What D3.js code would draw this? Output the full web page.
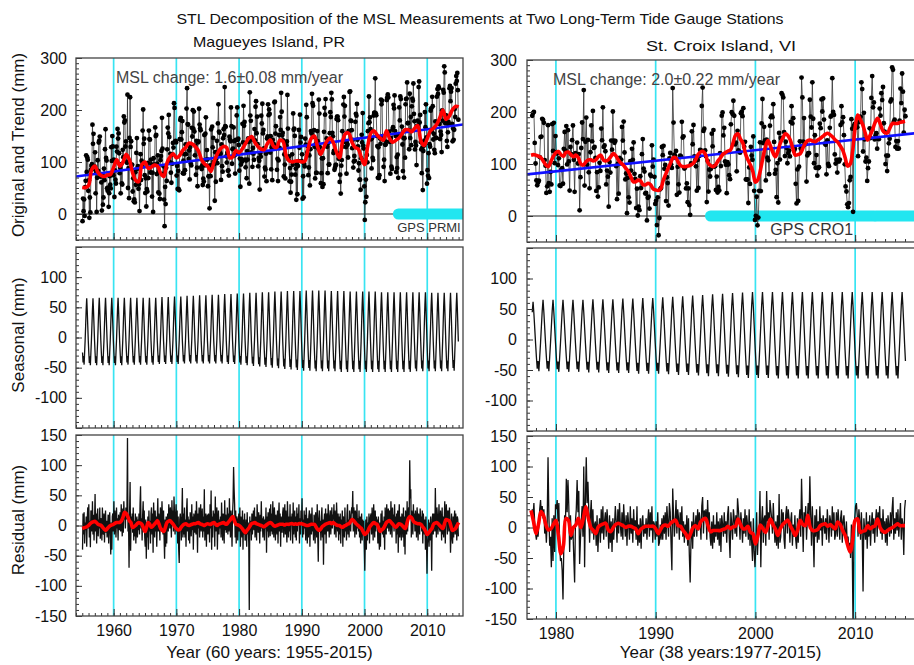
<!DOCTYPE html>
<html>

<head>
  <meta charset="utf8">
  <script src="https://d3js.org/d3.v7.min.js"></script>
  <style>
    body { margin: 0; background: #fff; }
    text { font-family: "Liberation Sans", Arial, sans-serif; fill: #111; }
    .narrow { font-family: "Liberation Sans Narrow", "Arial Narrow", sans-serif; }
  </style>
</head>

<body>
  <svg id="chart" width="914" height="665"></svg>
  <script>
    // ---- Magueyes Island, PR : monthly residuals Jan 1955 .. Dec 2014 (mm)
    var magResidual = [
      -40, 20, -15, 22, -30, 5, -8, 15, -35, 10, 30, -5,
      35, -20, 8, -36, 25, 12, -10, 40, -15, 18, -25, 5,
      52, -10, 20, -30, 15, 28, -18, 10, -5, 30, -22, 8,
      12, -25, 30, -8, -15, 20, -28, 5, 25, -12, 8, -20,
      -5, 18, -30, 10, 22, -15, -48, 5, -40, 15, 20, -10,
      40, -15, 25, 8, -20, 30, -5, 12, -25, 18, 5, -8,
      22, -10, 35, 5, -18, 28, -12, 40, 10, 20, -5, 30,
      10, 25, 145, -10, 8, -70, 20, 72, -42, 15, -5, 20,
      -12, 30, -25, 8, -18, 20, -30, 5, 15, -20, 10, -8,
      20, -15, 35, 65, -5, 12, -25, 18, 40, -10, 25, -20,
      -35, 10, -55, 5, -20, 15, -40, 25, -10, 8, -30, 20,
      30, -15, 20, -45, 38, 5, -20, 25, -10, 15, -35, 10,
      45, -10, 20, 5, -25, 30, 12, -5, 40, 8, -15, 25,
      -20, -55, 10, -35, 15, -30, 5, 20, -10, 35, 18, -5,
      30, 10, -20, 42, 5, 25, -10, 48, 20, -15, 12, 35,
      -10, 25, -30, 15, -40, -62, 10, 20, 5, -25, 15, 62,
      -20, 20, -15, 30, -20, 10, -35, 25, 45, -10, 15, -25,
      10, -30, 22, 5, -18, 35, -8, 15, -40, 20, 8, -12,
      25, -15, 40, 10, -45, 20, -5, 30, -20, 12, 35, -10,
      5, 28, -20, 15, -10, 60, -25, 8, 20, -35, 10, 18,
      -15, 20, 10, -28, 35, -5, 58, -40, 15, -20, 25, 5,
      20, -35, 48, -10, 15, 30, -40, 8, 25, -15, 10, -5,
      15, -20, 38, 5, -25, 20, 10, -30, 42, -8, 18, -12,
      -5, 30, -15, 20, -10, 45, 12, -20, 25, 10, -35, 20,
      40, 97, 60, 35, -20, 25, -30, 15, 10, -25, 5, 20,
      -10, 30, -35, 15, 5, -20, 25, -40, 10, -15, 20, -25,
      -20, 10, -35, 22, -15, 5, -30, -140, 15, -10, 8, -25,
      20, -15, 10, 25, -8, 30, -20, 15, 5, -25, 35, 10,
      -12, 22, 5, -30, 18, -10, 40, -5, 12, -20, 15, 8,
      -25, 10, -5, 30, -45, 15, -10, 22, -20, 8, 28, -18,
      35, -10, 20, -15, 40, 5, -20, 30, 10, -25, 18, 5,
      -15, 25, -30, 12, 38, -10, 20, -35, 15, 5, -12, 22,
      30, -20, 10, 35, -15, 25, -5, -28, 40, 10, -20, 15,
      -10, 35, -25, 15, 5, 20, -30, 38, -15, 10, 25, -20,
      15, -25, 30, -10, 20, 5, 35, -30, 12, -15, 25, 8,
      45, -20, 10, -15, 25, -5, 18, -25, 30, 8, -30, 12,
      -20, 15, 25, -35, 10, 20, -15, 30, -10, 5, -25, 18,
      10, -30, 22, 5, -20, 35, -15, -60, 12, 25, -10, 8,
      -25, 15, 30, -20, 10, -65, 5, 20, -15, 28, -30, 12,
      20, -10, 35, 5, -20, 15, 25, -15, 10, 30, -5, 18,
      10, 35, -15, 25, 5, -20, 38, 12, -10, 20, -25, 15,
      -15, 20, -30, 10, -5, 25, -35, 15, 8, -20, 30, -10,
      5, -25, 20, 35, -15, 10, -20, 25, 5, -10, 18, 30,
      20, 57, -10, 30, 15, -20, 25, 10, -15, 35, -5, 12,
      -10, 25, -20, 15, -30, 5, 20, -25, 10, -15, 8, -35,
      -75, -20, 10, -40, 15, -25, 5, -10, 20, -30, 8, 15,
      20, -15, 30, 5, -25, 35, 10, -20, 25, -10, 15, 5,
      10, -30, 15, -20, -40, 5, -35, 20, -10, 25, -15, 8,
      -20, 15, -40, 30, 5, -15, 35, 10, -5, 28, -10, 20,
      25, -15, 40, 10, -20, 30, 5, 18, -10, 35, -5, 15,
      -30, 20, -15, 25, -45, 10, 35, -20, 5, 15, -25, 20,
      10, -20, 30, -35, 15, -48, 25, 5, -15, 40, -10, 20,
      30, 15, 108, 45, 60, -20, 25, 10, -15, 35, 5, 20,
      -10, 25, 5, -20, 30, 15, -25, 20, 10, -15, 28, 5,
      15, -10, 25, -30, 20, 5, -15, 10, -40, 15, -20, -80,
      -30, -20, 10, -35, 5, -25, 15, -10, -75, 10, 20, -15,
      20, 10, -10, 62, 5, -20, 30, 15, -15, 10, 35, -5,
      -10, 25, 5, -25, 30, -15, 15, -20, 10, 40, -30, 15,
      35, 10, -15, 25, 20, -10, 30, 5, -45, -15, 20, -20,
      -30, 15, -20, 10, 25, -15, 20, 5, -25, 15, 10, -18
    ];

    // red trend, every half year from 1955.0 to 2015.0
    var magTrend = [
      51, 51, 55, 85, 92, 80, 74, 72, 75, 76,
      90, 104, 92, 100, 115, 105, 80, 65, 62, 95,
      100, 88, 90, 94, 92, 78, 72, 98, 110, 116,
      108, 112, 122, 128, 136, 135, 130, 122, 105, 96,
      92, 82, 100, 115, 125, 130, 128, 108, 110, 122,
      118, 125, 135, 145, 149, 138, 130, 125, 124, 135,
      142, 130, 128, 142, 140, 112, 102, 100, 102, 102,
      100, 102, 125, 145, 150, 130, 115, 128, 140, 146,
      138, 120, 108, 140, 155, 155, 138, 128, 125, 108,
      95, 130, 155, 160, 152, 146, 142, 160, 145, 138,
      142, 146, 155, 162, 162, 158, 165, 170, 140, 132,
      145, 160, 165, 172, 185, 200, 182, 188, 200, 207,
      206
    ];

    // smoothed residual (red), every quarter from 1955.0 to 2015.0
    var magResidSmooth = [
      -5, -4, -3, -2, 0, 3, 5, 6, 7, 5, 2, 1, 0, -3, -6, -8, -5, -2, 0, 1,
      2, 4, 5, 5, 5, 8, 14, 22, 20, 15, 8, 5, -3, -2, 0, 3, 5, 4, 2, -4,
      -10, -3, 5, 2, -3, -1, 2, 5, 8, 2, -5, -8, -10, -3, 5, 7, 8, 5, 2, -2,
      -5, -7, -7, -3, 0, 2, 3, 1, 0, 1, 2, 3, 3, 4, 5, 3, 2, 1, 0, 2,
      3, 2, 2, 4, 5, 2, 0, 2, 3, 4, 5, 3, 2, 5, 8, 12, 15, 8, 2, 1,
      0, -2, -5, -9, -12, -8, -5, -1, 3, 4, 5, 3, 2, 1, 0, -1, -2, 0, 2, 4,
      5, 3, 0, -1, 0, 1, 2, 2, 2, 1, 2, 2, 2, 3, 3, 2, 3, 2, 3, 3,
      3, 2, 1, 0, 0, 1, 2, 2, 2, -2, -6, -8, -6, -2, 0, 2, 3, 4, 5, 3,
      5, 3, 1, 0, 0, -2, -3, -1, 0, 2, 3, 6, 10, 8, 5, 2, 0, -3, -5, -10,
      -15, -13, -10, -4, 0, 3, 5, 3, 2, -4, -10, -7, -5, 0, 5, 7, 8, 5, 2, -1,
      -3, 0, 3, 2, 0, -3, -5, 3, 12, 15, 13, 8, 5, 4, 3, 3, 2, -2, -5, -10,
      -15, -12, -8, -5, 2, 4, 5, 3, 0, -3, -5, 3, 10, 9, 8, 0, -8, -7, -5, 0,
      5
    ];

    // seasonal amplitude per year 1955..2014 (peak and trough, mm)
    var magSeasMax = [
      65, 65, 66, 66, 66, 66, 66, 66, 66, 66, 66, 66, 67, 67, 68,
      68, 69, 69, 70, 70, 71, 71, 72, 72, 73, 73, 74, 74, 75, 75,
      76, 76, 77, 77, 77, 78, 78, 78, 78, 77, 77, 77, 76, 76, 76,
      76, 76, 75, 75, 75, 75, 75, 75, 75, 75, 74, 74, 74, 74, 74
    ];
    var magSeasMin = [
      -45, -46, -46, -46, -46, -46, -46, -45, -45, -45, -45, -45, -44, -44, -44,
      -44, -43, -43, -43, -43, -43, -43, -43, -44, -44, -45, -46, -47, -48, -49,
      -50, -51, -52, -53, -54, -55, -55, -56, -56, -56, -56, -57, -57, -57, -57,
      -57, -57, -57, -57, -57, -57, -57, -57, -56, -56, -56, -56, -56, -56, -55
    ];

    // ---- St. Croix Island, VI : monthly residuals Aug 1977 .. Jan 2015 (mm)
    var croixResidual = [
      30, 18, 40, 5, -10,
      -20, -8, -15, 5, 30, 45, 20, 35, 15, 30, -10, 5,
      -25, 10, 115, 20, -30, -15, -65, 15, -55, 20, -40, 38,
      30, 45, 10, 40, -30, -55, -50, -70, -118, -30, 20, 10,
      80, 25, 78, 35, -40, 20, -20, -15, -5, -50, -90, 10,
      30, 78, 25, 60, -60, -20, 10, 35, -15, 100, -65, 45,
      115, 40, 75, 30, -25, 20, 45, -10, 30, -20, 5, 10,
      -30, 20, -40, -5, 15, -25, 30, -10, 35, -20, 10, 25,
      -15, 30, 5, -35, 20, -25, 10, -40, 15, -20, 5, 35,
      10, -25, 30, -10, 40, 5, -15, 25, -20, 38, 10, -15,
      20, -30, 25, 5, -20, 35, -10, 15, -25, 30, -5, 12,
      -20, 35, -30, 5, -25, 15, -35, 10, 20, -15, 5, -10,
      15, -20, 10, 30, -15, 25, -5, 35, -25, 10, 5, -20,
      10, -15, 25, -30, -25, 5, -20, 15, -20, 20, -10, 25,
      -20, 35, 10, -15, 40, 25, -25, -70, 64, 20, -15, 10,
      45, -10, 30, 15, -20, 25, -5, 35, -15, 10, -25, 5,
      -10, 20, -30, 15, -45, -90, -20, 10, -35, 25, -15, 5,
      20, -15, 30, -5, 25, 10, -20, 35, 50, -10, 28, 15,
      30, -20, 45, 5, 25, -15, -30, 10, -35, 20, -25, 5,
      -15, 25, -20, 10, -30, 15, -40, 20, 5, -15, 25, -10,
      10, -25, 20, 35, -15, -50, 25, 5, -20, 30, 15, -10,
      20, -15, 48, 30, 10, -20, 25, 5, -25, 15, -10, 30,
      -15, 20, 5, -20, 30, -30, 10, -25, -55, 15, -40, -65,
      -30, 25, -45, -10, -5, 60, -65, 10, 35, -25, 15, 20,
      -30, 60, 10, 25, -20, 45, 30, 15, -10, 40, 5, -25,
      10, -30, 20, -35, 55, -25, -15, 30, 5, 25, -20, -35,
      20, 35, -10, 30, 15, -25, 10, 25, -30, 5, -15, 20,
      -20, -35, 15, -25, 10, 30, -15, 80, 20, -40, 25, 5,
      35, -20, 15, 40, 10, 84, 20, -30, 35, -10, -65, 20,
      -15, 30, -25, 10, -20, 35, -5, 15, -30, 20, 5, -10,
      15, -20, 30, 5, -25, 20, 10, -15, 35, -5, 25, -20,
      -10, 25, -15, 30, 5, -20, 15, 28, -25, 10, 20, -5,
      -20, 10, -30, -15, -40, -25, -50, 5, -35, -170, -20, 15,
      35, 40, 20, -15, 30, 10, -20, 25, -10, -105, 15, -5,
      -20, 25, -35, 10, -15, 20, -30, 5, 25, -10, 15, -25,
      10, 30, -15, 25, 5, 35, -10, 15, -20, 30, -5, 10,
      -25, 15, -30, 20, 5, -15, 25, -10, 30, 50, -20, 15,
      -10, 25, -5, 30, -15, 10, 40, -20, 15, 5, -45, 30,
      45
    ];

    // red trend, every quarter from 1977.5 to 2015.0
    var croixTrend = [
      117, 118,
      117, 115, 112, 105, 98, 95, 105, 115, 122, 124, 118, 115, 122, 123, 118, 114,
      117, 112, 100, 98, 104, 108, 108, 106, 108, 114, 117, 108, 106, 108, 114, 120,
      116, 108, 102, 98, 92, 86, 76, 66, 66, 69, 67, 60, 60, 63, 60, 52,
      50, 49, 52, 68, 80, 92, 102, 112, 112, 104, 97, 95, 95, 96, 98, 101,
      108, 118, 123, 124, 118, 102, 97, 95, 98, 106, 112, 119, 122, 125, 127, 140,
      155, 158, 148, 140, 120, 108, 98, 85, 65, 70, 88, 112, 133, 145, 135, 122,
      114, 125, 140, 150, 158, 155, 146, 130, 117, 118, 120, 130, 140, 145, 146, 144,
      143, 146, 149, 153, 157, 159, 156, 152, 146, 142, 135, 127, 112, 96, 100, 125,
      170, 194, 186, 176, 160, 146, 155, 166, 180, 188, 178, 165, 160, 160, 170, 178,
      178, 178, 180, 181,
      182
    ];

    // smoothed residual (red), every quarter from 1977.5 to 2015.0
    var croixResidSmooth = [
      28, 10,
      -10, 5, 26, 20, 4, -4, -2, 5, 12, -13, -43, -30, 15, 12, -13, 0,
      4, 15, 0, 15, 34, 15, 0, -5, -10, 1, 4, 6, 7, -4, -7, 0,
      5, 7, 5, 3, 0, 2, 2, 0, -2, -10, -3, 0, 2, 2, 2, 2,
      -2, -10, -3, 3, 4, 2, 7, 10, 12, 3, 2, -5, -10, -18, -10, 0,
      3, -2, 9, 13, 15, 3, -7, -5, -5, -5, -5, -3, -2, 2, -2, 1,
      2, 14, 5, -2, -2, 2, -8, -10, -27, -13, 4, -2, -8, 2, 14, 5,
      -2, -13, -2, 5, 9, 12, 3, -5, -13, -3, 12, 5, 3, 20, 0, -5,
      -5, -3, 3, 5, 6, 2, 5, 1, -2, 9, 5, -5, -13, -29, -40, -20,
      12, 14, -8, -6, -5, 3, -2, 1, 3, 14, 0, -6, -8, -5, -2, 0,
      3, 6, 3, 3,
      3
    ];

    // seasonal amplitude per year 1977..2015
    var croixSeasMax = [
      62, 65, 65, 65, 65, 65, 66, 66, 66, 67, 67, 68, 68, 69, 70, 71, 72, 73, 74, 75,
      76, 77, 78, 78, 78, 78, 78, 78, 78, 78, 78, 78, 78, 78, 78, 78, 78, 78, 78
    ];
    var croixSeasMin = [
      -50, -52, -52, -53, -53, -53, -54, -54, -55, -55, -55, -56, -56, -56, -57, -58, -58, -59, -60, -60,
      -61, -62, -63, -63, -63, -64, -64, -64, -64, -64, -64, -64, -64, -64, -64, -64, -64, -64, -64
    ];

    // normalised shape of one seasonal cycle, Jan..Dec
    var seasonShape = [-0.55, -0.92, -0.68, -1.0, -0.55, -0.1, 0.32, 0.72, 1.0, 0.68, 0.3, -0.12];

    // fitted linear trends (year, mm)
    var magFit = [[1954, 72], [2015.7, 172]];
    var croixFit = [[1977.1, 80], [2016, 159]];

    // GPS station coverage (years)
    var magGps = [[2005.4, 2015.6]];
    var croixGps = [[1995.5, 2004.5], [2004.7, 2008.5], [2008.7, 2011.9], [2012.1, 2015.8]];

    var decadesMag = [1960, 1970, 1980, 1990, 2000, 2010];
    var decadesCroix = [1980, 1990, 2000, 2010];

    var cyan = '#38e4f2';
    var chart = d3.select('#chart');

    var stations = [
      {
        x: d3.scaleLinear().domain([1954, 2015.7]).range([76, 463]),
        rows: [[58, 240], [247, 428], [435, 616]],
        start: 1955, resid: magResidual,
        trend: magTrend, trendStart: 1955, trendStep: 0.5,
        smooth: magResidSmooth, smoothStart: 1955, smoothStep: 0.25,
        seasYear0: 1955, seasMax: magSeasMax, seasMin: magSeasMin,
        fit: magFit, gps: magGps, decades: decadesMag, years: d3.range(1954, 2016),
        rate: 'MSL change: 1.6\u00b10.08 mm/year', rateX: 116,
        gpsLabel: 'GPS PRMI', gpsLabelYear: 2005.2, gpsLabelSize: 13, gpsLabelDy: 18,
        xTitle: 'Year (60 years: 1955-2015)', labelPad: 9
      },
      {
        x: d3.scaleLinear().domain([1977.1, 2016]).range([527, 915]),
        rows: [[60, 242], [248, 431], [436, 619]],
        start: 1977 + 7 / 12, resid: croixResidual,
        trend: croixTrend, trendStart: 1977.5, trendStep: 0.25,
        smooth: croixResidSmooth, smoothStart: 1977.5, smoothStep: 0.25,
        seasYear0: 1977, seasMax: croixSeasMax, seasMin: croixSeasMin,
        fit: croixFit, gps: croixGps, decades: decadesCroix, years: d3.range(1978, 2016),
        rate: 'MSL change: 2.0\u00b10.22 mm/year', rateX: 553,
        gpsLabel: 'GPS CRO1', gpsLabelYear: 2001.5, gpsLabelSize: 16, gpsLabelDy: 19,
        xTitle: 'Year (38 years:1977-2015)', labelPad: 10
      }
    ];

    var rowDomains = [[-50, 300], [-150, 150], [-150, 150]];
    var rowLabels = [[0, 100, 200, 300], [-100, -50, 0, 50, 100], [-150, -100, -50, 0, 50, 100, 150]];
    var rowMajors = [[0, 100, 200, 300], [-150, -100, -50, 0, 50, 100, 150], [-150, -100, -50, 0, 50, 100, 150]];

    function seasonalAt(st, t) {
      var yr = Math.floor(t);
      var m = Math.min(11, Math.floor((t - yr) * 12));
      var i = Math.max(0, Math.min(st.seasMax.length - 1, yr - st.seasYear0));
      var s = seasonShape[m];
      return s >= 0 ? s * st.seasMax[i] : -s * st.seasMin[i];
    }

    // original = trend + seasonal + residual (STL identity)
    function buildSeries(st) {
      return st.resid.map(function (r, i) {
        var t = st.start + (i + 0.5) / 12;
        var s = seasonalAt(st, t);
        var k = Math.round((t - st.trendStart) / st.trendStep);
        var tr = st.trend[Math.max(0, Math.min(st.trend.length - 1, k))];
        return { t: t, resid: r, seas: s, orig: tr + s + r };
      });
    }

    stations.forEach(function (st, si) {
      var x = st.x;
      var data = buildSeries(st);
      var x0 = x.range()[0], x1 = x.range()[1];

      st.rows.forEach(function (rg, ri) {
        var y = d3.scaleLinear().domain(rowDomains[ri]).range([rg[1], rg[0]]);
        var clipId = 'clip-' + si + '-' + ri;
        chart.append('clipPath').attr('id', clipId).append('rect')
          .attr('x', x0).attr('y', rg[0]).attr('width', x1 - x0).attr('height', rg[1] - rg[0]);

        var plot = chart.append('g').attr('clip-path', 'url(#' + clipId + ')');

        plot.selectAll('.decade').data(st.decades).enter().append('line')
          .attr('x1', function (d) { return x(d); }).attr('x2', function (d) { return x(d); })
          .attr('y1', rg[0]).attr('y2', rg[1])
          .attr('stroke', cyan).attr('stroke-width', 1.7);

        if (ri === 0) {
          plot.append('line')
            .attr('x1', x0).attr('x2', x1).attr('y1', y(0)).attr('y2', y(0))
            .attr('stroke', '#222').attr('stroke-width', 1.2);

          plot.selectAll('.gps').data(st.gps).enter().append('line')
            .attr('x1', function (d) { return x(d[0]); }).attr('x2', function (d) { return x(d[1]); })
            .attr('y1', y(0)).attr('y2', y(0))
            .attr('stroke', '#22e6f0').attr('stroke-width', 11).attr('stroke-linecap', 'round');

          plot.append('path').datum(data)
            .attr('d', d3.line().x(function (d) { return x(d.t); }).y(function (d) { return y(d.orig); }))
            .attr('fill', 'none').attr('stroke', '#333').attr('stroke-width', 0.8);

          plot.selectAll('.dot').data(data).enter().append('circle')
            .attr('cx', function (d) { return x(d.t); }).attr('cy', function (d) { return y(d.orig); })
            .attr('r', 2.4).attr('fill', '#000');

          plot.append('path').datum(st.fit)
            .attr('d', d3.line().x(function (d) { return x(d[0]); }).y(function (d) { return y(d[1]); }))
            .attr('fill', 'none').attr('stroke', '#1010ff').attr('stroke-width', 2.6);

          plot.append('path').datum(st.trend)
            .attr('d', d3.line().curve(d3.curveCatmullRom)
              .x(function (d, i) { return x(st.trendStart + i * st.trendStep); })
              .y(function (d) { return y(d); }))
            .attr('fill', 'none').attr('stroke', '#ff0000').attr('stroke-width', 3.6);

          chart.append('text').attr('x', st.rateX).attr('y', rg[0] + 25)
            .attr('font-size', 16).style('fill', '#444').text(st.rate);

          chart.append('text').attr('x', x(st.gpsLabelYear)).attr('y', y(0) + st.gpsLabelDy)
            .attr('font-size', st.gpsLabelSize).style('fill', '#333').text(st.gpsLabel);
        } else if (ri === 1) {
          plot.append('path').datum(data)
            .attr('d', d3.line().x(function (d) { return x(d.t); }).y(function (d) { return y(d.seas); }))
            .attr('fill', 'none').attr('stroke', '#111').attr('stroke-width', 1.3);
        } else {
          plot.append('path').datum(data)
            .attr('d', d3.line().x(function (d) { return x(d.t); }).y(function (d) { return y(d.resid); }))
            .attr('fill', 'none').attr('stroke', '#111').attr('stroke-width', 1.3);

          plot.append('path').datum(st.smooth)
            .attr('d', d3.line().curve(d3.curveCatmullRom)
              .x(function (d, i) { return x(st.smoothStart + i * st.smoothStep); })
              .y(function (d) { return y(d); }))
            .attr('fill', 'none').attr('stroke', '#ff0000').attr('stroke-width', 3.6);
        }

        // axes with inward ticks
        var dom = rowDomains[ri];
        var minorY = chart.append('g').attr('transform', 'translate(' + x0 + ',0)')
          .call(d3.axisLeft(y).tickValues(d3.range(dom[0], dom[1] + 1, 10)).tickSize(-3).tickFormat(''));
        var labels = rowLabels[ri];
        var majorY = chart.append('g').attr('transform', 'translate(' + x0 + ',0)')
          .call(d3.axisLeft(y).tickValues(rowMajors[ri]).tickSize(-6).tickPadding(st.labelPad)
            .tickFormat(function (d) { return labels.indexOf(d) >= 0 ? d : ''; }));
        var minorX = chart.append('g').attr('transform', 'translate(0,' + rg[1] + ')')
          .call(d3.axisBottom(x).tickValues(st.years).tickSize(-3).tickFormat(''));
        var majorX = chart.append('g').attr('transform', 'translate(0,' + rg[1] + ')')
          .call(d3.axisBottom(x).tickValues(st.decades).tickSize(-7).tickPadding(8.5)
            .tickFormat(function (d) { return ri === 2 ? d : ''; }));

        [minorY, majorY, minorX, majorX].forEach(function (a) {
          a.select('.domain').remove();
          a.selectAll('line').attr('stroke', '#333');
          a.attr('font-size', 16).attr('font-family', '"Liberation Sans", Arial, sans-serif');
          a.selectAll('text').style('fill', '#111');
        });

        chart.append('rect')
          .attr('x', x0).attr('y', rg[0]).attr('width', x1 - x0).attr('height', rg[1] - rg[0])
          .attr('fill', 'none').attr('stroke', '#444').attr('stroke-width', 1.3);
      });

      chart.append('text')
        .attr('x', (x0 + Math.min(x1, 914)) / 2).attr('y', 658)
        .attr('text-anchor', 'middle').attr('font-size', 17)
        .text(st.xTitle);
    });

    // titles
    chart.append('text').attr('class', 'narrow').attr('x', 480).attr('y', 24)
      .attr('text-anchor', 'middle').attr('font-size', 15)
      .attr('textLength', 607).attr('lengthAdjust', 'spacingAndGlyphs')
      .text('STL Decomposition of the MSL Measurements at Two Long-Term Tide Gauge Stations');
    chart.append('text').attr('class', 'narrow').attr('x', 269).attr('y', 47)
      .attr('text-anchor', 'middle').attr('font-size', 15)
      .attr('textLength', 152).attr('lengthAdjust', 'spacingAndGlyphs')
      .text('Magueyes Island, PR');
    chart.append('text').attr('class', 'narrow').attr('x', 721).attr('y', 51)
      .attr('text-anchor', 'middle').attr('font-size', 15)
      .attr('textLength', 150).attr('lengthAdjust', 'spacingAndGlyphs')
      .text('St. Croix Island, VI');

    // y axis titles
    var yTitles = [['Original and Trend (mm)', 145], ['Seasonal (mm)', 335], ['Residual (mm)', 520]];
    yTitles.forEach(function (d) {
      chart.append('text')
        .attr('transform', 'translate(24,' + d[1] + ') rotate(-90)')
        .attr('text-anchor', 'middle').attr('font-size', 17)
        .text(d[0]);
    });
  </script>
</body>

</html>
